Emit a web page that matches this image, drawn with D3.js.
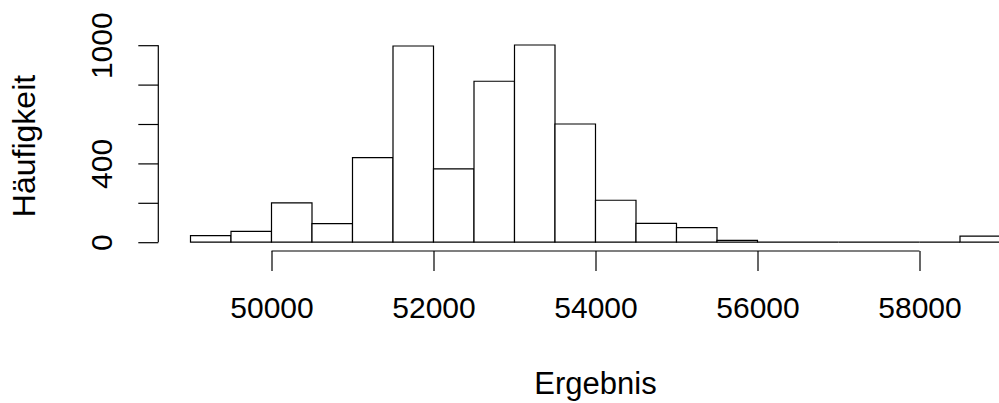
<!DOCTYPE html>
<html>
<head>
<meta charset="utf-8">
<script src="https://cdn.jsdelivr.net/npm/d3@7"></script>
<style>
  html, body { margin: 0; padding: 0; background: #fff; }
  svg { display: block; }
  text { font-family: "Liberation Sans", Arial, sans-serif; fill: #000; }
</style>
</head>
<body>
<svg id="chart" width="999" height="403"></svg>
<script>
// Histogram of results: bin edges (width 500) and counts per bin
const binStarts = [49000, 49500, 50000, 50500, 51000, 51500, 52000, 52500, 53000, 53500,
                   54000, 54500, 55000, 55500, 56000, 56500, 57000, 57500, 58000, 58500];
const binWidth = 500;
const counts = [33, 55, 200, 94, 429, 996, 372, 817, 1001, 600,
                213, 96, 74, 9, 0, 0, 0, 0, 0, 31];

const xTicks = [50000, 52000, 54000, 56000, 58000];
const yTicks = [0, 200, 400, 600, 800, 1000];
const yTickLabels = [0, 400, 1000];

const xTitle = "Ergebnis";
const yTitle = "Häufigkeit";

const svg = d3.select("#chart");
const fontSize = 30;

const x = d3.scaleLinear().domain([49000, 59000]).range([190.5, 1000.5]);
const y = d3.scaleLinear().domain([0, 1000]).range([242.2, 45.2]);

// plot-region edges (4% padding like base graphics)
const axisY = 251;
const axisX = 158.3;

// bars as closed outlines, so empty bins still show along the baseline
svg.append("g")
  .selectAll("path")
  .data(binStarts.map((s, i) => ({ s, c: counts[i] })))
  .join("path")
  .attr("d", d => {
    const x0 = x(d.s), x1 = x(d.s + binWidth), y0 = y(0), y1 = y(d.c);
    return `M${x0},${y0}V${y1}H${x1}V${y0}Z`;
  })
  .attr("fill", "#fff")
  .attr("stroke", "#000")
  .attr("stroke-width", 1.2);

// x axis
const xAxis = svg.append("g")
  .attr("transform", `translate(0,${axisY})`)
  .call(d3.axisBottom(x).tickValues(xTicks).tickSize(20).tickSizeOuter(0).tickFormat(d3.format("d")));
xAxis.select(".domain").remove();
xAxis.append("line")
  .attr("x1", x(xTicks[0])).attr("x2", x(xTicks[xTicks.length - 1]))
  .attr("stroke", "#000").attr("stroke-width", 1.2);
xAxis.selectAll(".tick line").attr("stroke-width", 1.2);
xAxis.selectAll(".tick text")
  .attr("y", 67.3).attr("dy", null)
  .style("font-size", fontSize + "px")
  .style("font-family", "'Liberation Sans', Arial, sans-serif");

// y axis
const yAxis = svg.append("g")
  .attr("transform", `translate(${axisX},0)`)
  .call(d3.axisLeft(y).tickValues(yTicks).tickSize(20).tickSizeOuter(0)
    .tickFormat(d => yTickLabels.includes(d) ? String(d) : ""));
yAxis.select(".domain").remove();
yAxis.append("line")
  .attr("y1", y(yTicks[0])).attr("y2", y(yTicks[yTicks.length - 1]))
  .attr("stroke", "#000").attr("stroke-width", 1.2);
yAxis.selectAll(".tick line").attr("stroke-width", 1.2);
yAxis.selectAll(".tick text")
  .attr("transform", "rotate(-90)")
  .attr("x", 0).attr("y", -46.6).attr("dy", null)
  .attr("text-anchor", "middle")
  .style("font-size", fontSize + "px")
  .style("font-family", "'Liberation Sans', Arial, sans-serif");

// axis titles
svg.append("text")
  .attr("x", (x(49000) + x(59000)) / 2)
  .attr("y", 394.3)
  .attr("text-anchor", "middle")
  .style("font-size", "31px")
  .text(xTitle);

svg.append("text")
  .attr("transform", `translate(35,146) rotate(-90)`)
  .attr("text-anchor", "middle")
  .style("font-size", "32px")
  .text(yTitle);
</script>
</body>
</html>
